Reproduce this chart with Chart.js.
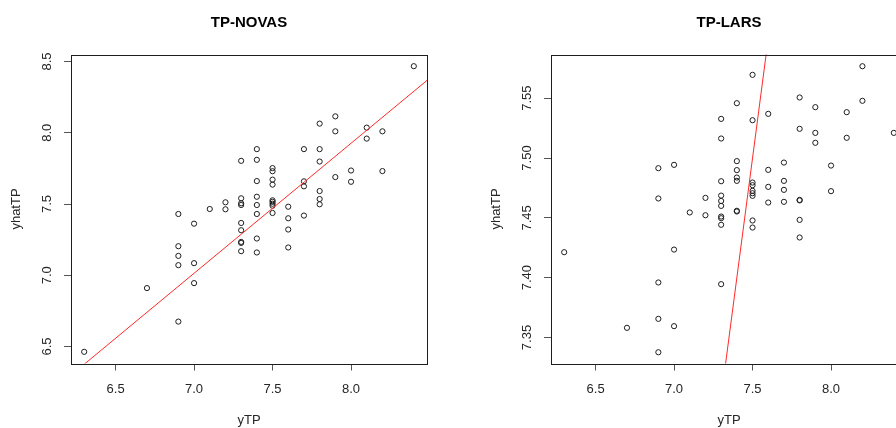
<!DOCTYPE html>
<html lang="en">
<head>
<meta charset="utf-8">
<title>TP-NOVAS / TP-LARS</title>
<script src="https://cdn.jsdelivr.net/npm/chart.js"></script>
<style>
	html, body { margin: 0; padding: 0; background: #fff; overflow: hidden; }
	#panels { display: flex; width: 960px; height: 428px; }
	canvas { display: block; }
</style>
</head>
<body>
<div id="panels">
	<canvas id="novas" width="480" height="428"></canvas>
	<canvas id="lars" width="480" height="428"></canvas>
</div>

<script>
const xNovas = [6.3, 6.7,
	6.9, 6.9, 6.9, 6.9, 6.9,
	7.0, 7.0, 7.0, 7.1, 7.2, 7.2,
	7.3, 7.3, 7.3, 7.3, 7.3, 7.3, 7.3, 7.3, 7.3,
	7.4, 7.4, 7.4, 7.4, 7.4, 7.4, 7.4, 7.4,
	7.5, 7.5, 7.5, 7.5, 7.5, 7.5, 7.5, 7.5, 7.5,
	7.6, 7.6, 7.6, 7.6,
	7.7, 7.7, 7.7, 7.7,
	7.8, 7.8, 7.8, 7.8, 7.8, 7.8,
	7.9, 7.9, 7.9, 8.0, 8.0, 8.1, 8.1, 8.2, 8.2, 8.4];
const yhatNovas = [6.463, 6.910,
	7.430, 7.204, 7.136, 7.071, 6.675,
	7.362, 7.085, 6.945, 7.465, 7.512, 7.463,
	7.803, 7.540, 7.505, 7.493, 7.367, 7.316, 7.234, 7.227, 7.169,
	7.885, 7.810, 7.661, 7.551, 7.493, 7.430, 7.258, 7.160,
	7.752, 7.730, 7.671, 7.636, 7.526, 7.515, 7.502, 7.488, 7.437,
	7.481, 7.400, 7.321, 7.195,
	7.885, 7.659, 7.624, 7.419,
	8.064, 7.885, 7.798, 7.591, 7.535, 7.498,
	8.115, 8.010, 7.689, 7.735, 7.656, 8.036, 7.959, 8.010, 7.731, 8.467];

const xLars = [6.3, 6.7,
	6.9, 6.9, 6.9, 6.9, 6.9,
	7.0, 7.0, 7.0, 7.1, 7.2, 7.2,
	7.3, 7.3, 7.3, 7.3, 7.3, 7.3, 7.3, 7.3, 7.3, 7.3,
	7.4, 7.4, 7.4, 7.4, 7.4, 7.4, 7.4,
	7.5, 7.5, 7.5, 7.5, 7.5, 7.5, 7.5, 7.5, 7.5,
	7.6, 7.6, 7.6, 7.6,
	7.7, 7.7, 7.7, 7.7,
	7.8, 7.8, 7.8, 7.8, 7.8, 7.8,
	7.9, 7.9, 7.9, 8.0, 8.0, 8.1, 8.1, 8.2, 8.2, 8.4];
const yhatLars = [7.4213, 7.3581,
	7.4915, 7.4662, 7.3960, 7.3656, 7.3377,
	7.4943, 7.4235, 7.3595, 7.4545, 7.4667, 7.4522,
	7.5327, 7.5163, 7.4806, 7.4686, 7.4641, 7.4600, 7.4511, 7.4497, 7.4442, 7.3946,
	7.5458, 7.4974, 7.4899, 7.4837, 7.4809, 7.4559, 7.4553,
	7.5695, 7.5316, 7.4795, 7.4773, 7.4726, 7.4706, 7.4684, 7.4478, 7.4419,
	7.5369, 7.4901, 7.4759, 7.4628,
	7.4962, 7.4809, 7.4734, 7.4634,
	7.5506, 7.5244, 7.4650, 7.4646, 7.4483, 7.4336,
	7.5425, 7.5210, 7.5127, 7.4937, 7.4723, 7.5383, 7.5169, 7.5767, 7.5478, 7.5210];

// axis ranges and tick labels
const xRange = [6.216, 8.484];
const xTicks = [6.5, 7.0, 7.5, 8.0];
const novasRange = [6.381, 8.549];
const novasTicks = [6.5, 7.0, 7.5, 8.0, 8.5];
const larsRange = [7.3283, 7.5865];
const larsTicks = [7.35, 7.40, 7.45, 7.50, 7.55];

// red reference lines: [intercept, slope]
const novasFit = [0.63, 0.912];
const larsFit = [0, 1];

const FONT = '"Liberation Sans", Arial, sans-serif';
const TEXT = '#262626';
Chart.defaults.font.family = FONT;

// R style: box round the plot, title centred on the box, y labels parallel to the axis
const rBox = {
	id: 'rBox',
	afterDraw(chart, args, opts) {
		const ctx = chart.ctx, a = chart.chartArea, y = chart.scales.y;
		ctx.save();
		ctx.strokeStyle = '#1e1e1e';
		ctx.lineWidth = 1;
		ctx.strokeRect(Math.round(a.left) + 0.5, Math.round(a.top) + 0.5,
			Math.round(a.right - a.left), Math.round(a.bottom - a.top));

		ctx.fillStyle = '#000';
		ctx.font = 'bold 15px ' + FONT;
		ctx.textAlign = 'center';
		ctx.textBaseline = 'middle';
		ctx.fillText(opts.text, (a.left + a.right) / 2, 23);

		ctx.fillStyle = TEXT;
		ctx.font = '13px ' + FONT;
		y.ticks.forEach(t => {
			ctx.save();
			ctx.translate(47, y.getPixelForValue(t.value));
			ctx.rotate(-Math.PI / 2);
			ctx.fillText(t.label, 0, 0);
			ctx.restore();
		});
		ctx.restore();
	}
};

function makePanel(id, title, xs, ys, yRange, yTicks, digits, fit) {
	const pts = xs.map((x, i) => ({ x: x, y: ys[i] }));
	const line = xRange.map(x => ({ x: x, y: fit[0] + fit[1] * x }));

	return new Chart(document.getElementById(id), {
		data: {
			datasets: [
				{
					type: 'line',
					data: line,
					borderColor: '#ff2a2a',
					borderWidth: 1,
					pointRadius: 0,
					clip: 0
				},
				{
					type: 'scatter',
					data: pts,
					pointStyle: 'circle',
					pointRadius: 2.6,
					pointBorderWidth: 1,
					pointBackgroundColor: 'rgba(0,0,0,0)',
					pointBorderColor: '#1e1e1e'
				}
			]
		},
		options: {
			responsive: false,
			animation: false,
			devicePixelRatio: 1,
			events: [],
			layout: { padding: { left: 0, right: 53, top: 54.5, bottom: 0 } },
			plugins: {
				legend: { display: false },
				tooltip: { enabled: false },
				title: { display: false },
				rBox: { text: title }
			},
			scales: {
				x: {
					type: 'linear',
					min: xRange[0],
					max: xRange[1],
					afterBuildTicks: s => { s.ticks = xTicks.map(v => ({ value: v })); },
					afterFit: s => { s.height = 64.5; },
					ticks: {
						callback: v => v.toFixed(1),
						color: TEXT,
						font: { size: 13 },
						padding: 11,
						maxRotation: 0,
						autoSkip: false
					},
					grid: { drawOnChartArea: false, tickLength: 7, color: '#555' },
					border: { display: false },
					title: {
						display: true,
						text: 'yTP',
						color: TEXT,
						font: { size: 13 },
						padding: { top: 0, bottom: 0 }
					}
				},
				y: {
					type: 'linear',
					min: yRange[0],
					max: yRange[1],
					afterBuildTicks: s => { s.ticks = yTicks.map(v => ({ value: v })); },
					afterFit: s => { s.width = 71; },
					ticks: {
						callback: v => v.toFixed(digits),
						color: 'rgba(0,0,0,0)',
						font: { size: 13 },
						autoSkip: false
					},
					grid: { drawOnChartArea: false, tickLength: 7, color: '#555' },
					border: { display: false },
					title: {
						display: true,
						text: 'yhatTP',
						color: TEXT,
						font: { size: 13 },
						padding: { top: 9, bottom: 0 }
					}
				}
			}
		},
		plugins: [rBox]
	});
}

makePanel('novas', 'TP-NOVAS', xNovas, yhatNovas, novasRange, novasTicks, 1, novasFit);
makePanel('lars', 'TP-LARS', xLars, yhatLars, larsRange, larsTicks, 2, larsFit);
</script>
</body>
</html>
